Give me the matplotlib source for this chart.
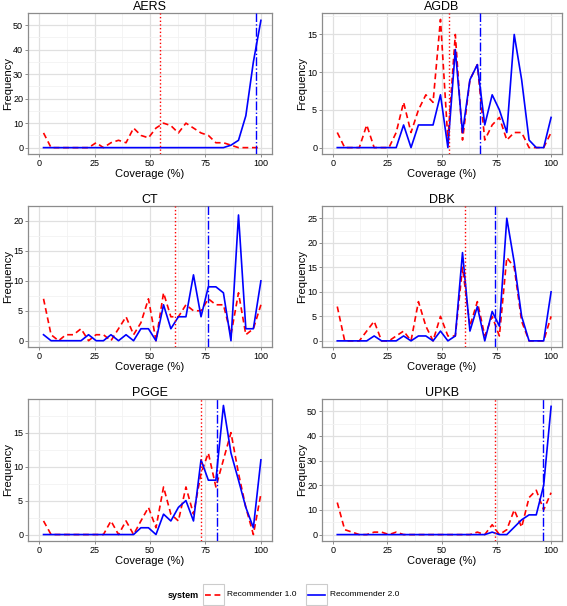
import matplotlib
matplotlib.use("Agg")
import matplotlib.pyplot as plt
from matplotlib.patches import Rectangle
from matplotlib.lines import Line2D

plt.rcParams['font.family'] = ['Liberation Sans', 'DejaVu Sans']

# bin centres of coverage (%)
coverage = [2.0, 5.4, 8.8, 12.1, 15.5, 18.9, 22.3, 25.7, 29.0, 32.4,
            35.8, 39.2, 42.6, 45.9, 49.3, 52.7, 56.1, 59.4, 62.8, 66.2,
            69.6, 73.0, 76.3, 79.7, 83.1, 86.5, 89.9, 93.2, 96.6, 100.0]

panels = ["AERS", "AGDB", "CT", "DBK", "PGGE", "UPKB"]

# Recommender 1.0 frequencies
rec1_aers = [6, 0, 0, 0, 0, 0, 0, 2, 0, 2, 3, 2, 8, 5, 4, 8, 10, 9, 6, 10, 8, 6, 5, 2, 2, 1, 0, 0, 0, 0]
rec1_agdb = [2, 0, 0, 0, 3, 0, 0, 0, 2, 6, 2, 5, 7, 6, 17, 1, 15, 1, 9, 11, 1, 3, 4, 1, 2, 2, 0, 0, 0, 2]
rec1_ct = [7, 1, 0, 1, 1, 2, 0, 1, 1, 0, 2, 4, 1, 3, 7, 0, 8, 4, 4, 6, 5, 5, 7, 6, 6, 1, 8, 1, 2, 6]
rec1_dbk = [7, 0, 0, 0, 2, 4, 0, 0, 1, 2, 0, 8, 3, 0, 5, 1, 1, 15, 3, 8, 1, 5, 1, 17, 15, 4, 0, 0, 0, 5]
rec1_pgge = [2, 0, 0, 0, 0, 0, 0, 0, 0, 2, 0, 2, 0, 2, 4, 1, 7, 3, 2, 7, 3, 9, 12, 7, 11, 15, 9, 4, 0, 6]
rec1_upkb = [13, 2, 1, 0, 0, 1, 1, 0, 1, 0, 0, 0, 0, 0, 0, 0, 0, 0, 0, 1, 0, 4, 0, 2, 10, 3, 15, 18, 10, 17]

# Recommender 2.0 frequencies
rec2_aers = [0] * 24 + [0, 1, 3, 13, 35, 52]
rec2_agdb = [0, 0, 0, 0, 0, 0, 0, 0, 0, 3, 0, 3, 3, 3, 7, 0, 13, 2, 9, 11, 3, 7, 5, 2, 15, 9, 1, 0, 0, 4]
rec2_ct = [1, 0, 0, 0, 0, 0, 1, 0, 0, 1, 0, 1, 0, 2, 2, 0, 6, 2, 4, 4, 11, 4, 9, 9, 8, 0, 21, 2, 2, 10]
rec2_dbk = [0, 0, 0, 0, 0, 1, 0, 0, 0, 1, 0, 1, 1, 0, 2, 0, 1, 18, 2, 7, 0, 6, 3, 25, 16, 5, 0, 0, 0, 10]
rec2_pgge = [0, 0, 0, 0, 0, 0, 0, 0, 0, 0, 0, 0, 0, 1, 1, 0, 3, 2, 4, 5, 2, 11, 8, 8, 19, 12, 8, 4, 1, 11]
rec2_upkb = [0] * 21 + [1, 0, 0, 3, 6, 8, 8, 20, 52]

# mean coverage per system
mean_rec1 = [54.6, 53.4, 61.1, 60.6, 73.0, 74.5]
mean_rec2 = [97.6, 67.5, 76.3, 74.5, 80.4, 96.2]

rec1_all = [rec1_aers, rec1_agdb, rec1_ct, rec1_dbk, rec1_pgge, rec1_upkb]
rec2_all = [rec2_aers, rec2_agdb, rec2_ct, rec2_dbk, rec2_pgge, rec2_upkb]
ytick_step = [10, 5, 5, 5, 5, 10]

W, H = 567, 606
fig = plt.figure(figsize=(W / 100, H / 100), dpi=100)

# panel boxes in pixels (left, right) / (top, bottom)
cols = [(28, 272), (322, 562)]
rows = [(13, 154), (206, 347), (399, 541)]

RED = "#FF0000"
BLUE = "#0000FF"

for i, name in enumerate(panels):
    x0, x1 = cols[i % 2]
    y0, y1 = rows[i // 2]
    ax = fig.add_axes([x0 / W, 1 - y1 / H, (x1 - x0) / W, (y1 - y0) / H])

    ax.plot(coverage, rec1_all[i], color=RED, lw=1.2, dashes=(3.5, 2.2), zorder=3)
    ax.plot(coverage, rec2_all[i], color=BLUE, lw=1.2, zorder=3)
    ax.axvline(mean_rec1[i], color=RED, lw=1.0, ls=':', zorder=4)
    ax.axvline(mean_rec2[i], color=BLUE, lw=1.0, ls='-.', zorder=4)

    ymax = max(max(rec1_all[i]), max(rec2_all[i]))
    ax.set_ylim(-0.05 * ymax, 1.05 * ymax)
    ax.set_xlim(-5, 105)
    step = ytick_step[i]
    ax.set_yticks(range(0, ymax + 1, step))
    ax.set_yticks([v + step / 2 for v in range(0, ymax + 1, step)], minor=True)
    ax.set_xticks([0, 25, 50, 75, 100])
    ax.set_xticks([12.5, 37.5, 62.5, 87.5], minor=True)

    ax.grid(which='major', color='#E0E0E0', lw=0.9, zorder=0)
    ax.grid(which='minor', color='#F2F2F2', lw=0.6, zorder=0)
    ax.set_axisbelow(True)
    for s in ax.spines.values():
        s.set_color('#8C8C8C')
        s.set_linewidth(0.9)
    ax.tick_params(which='major', length=2.5, width=0.7, color='#8C8C8C',
                   labelsize=6.5, pad=1)
    ax.tick_params(which='minor', length=0)

    ax.set_title(name, fontsize=9, pad=2)
    ax.set_xlabel("Coverage (%)", fontsize=8, labelpad=1)
    ax.set_ylabel("Frequency", fontsize=8, labelpad=0)

# legend at the bottom
fig.text(168 / W, 1 - 595 / H, "system", fontsize=6.5, fontweight='bold',
         va='center', ha='left')
leg = fig.add_axes([0, 0, 1, 1], facecolor='none')
leg.set_xlim(0, W)
leg.set_ylim(H, 0)
leg.axis('off')
keys = [(203, RED, (3.5, 2.2), "Recommender 1.0"), (306, BLUE, None, "Recommender 2.0")]
for kx, col, dash, label in keys:
    leg.add_patch(Rectangle((kx, 584), 21, 21, fill=False, edgecolor='#CCCCCC', lw=0.8))
    ln = Line2D([kx + 2, kx + 19], [594.5, 594.5], color=col, lw=1.2)
    if dash:
        ln.set_dashes(dash)
    leg.add_line(ln)
    leg.text(kx + 24, 594.5, label, fontsize=6, va='center', ha='left')

fig.savefig("out.png", dpi=100)
